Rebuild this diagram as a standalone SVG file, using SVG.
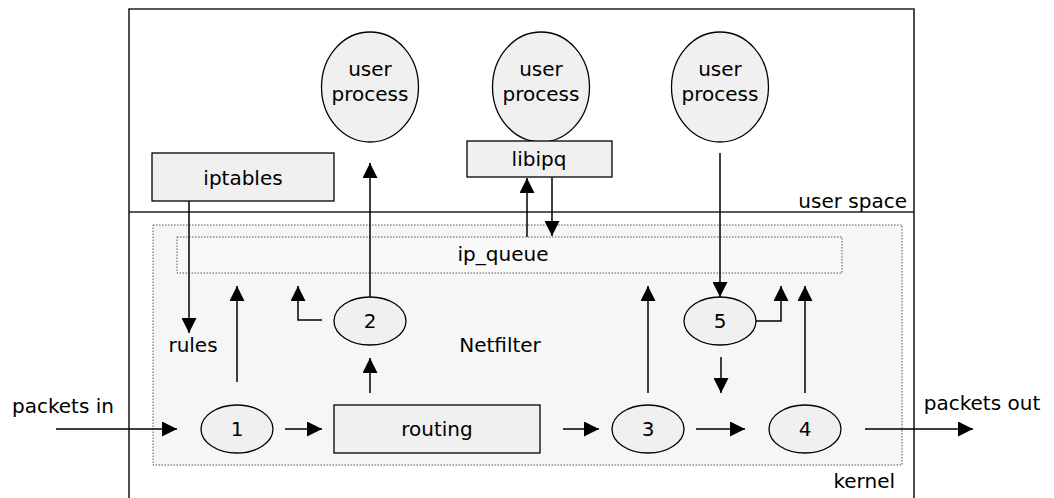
<svg xmlns="http://www.w3.org/2000/svg" width="1054" height="498" viewBox="0 0 1054 498">
<style>
text{font-family:"DejaVu Sans",Verdana,sans-serif;font-size:20px;fill:#000}
.c{text-anchor:middle}
.node{fill:#f0f0f0;stroke:#000;stroke-width:1.3}
.con{fill:none;stroke:#000;stroke-width:1.5}
.arr{marker-end:url(#ah)}
.dot{stroke:#555;stroke-width:1;stroke-dasharray:1.5 1.5}
.frame{fill:none;stroke:#222;stroke-width:1.6}
</style>
<defs>
<marker id="ah" markerUnits="userSpaceOnUse" markerWidth="15" markerHeight="15" refX="15" refY="7.5" orient="auto" viewBox="0 0 15 15">
<path d="M0,0 L15,7.5 L0,15 z" fill="#000"/>
</marker>
</defs>
<rect width="1054" height="498" fill="#fff"/>
<g id="frame">
<path class="frame" d="M129,498 V9 H914 V498"/>
<line class="frame" x1="129" y1="212" x2="914" y2="212"/>
<text x="907" y="208" text-anchor="end">user space</text>
<text x="895" y="488" text-anchor="end">kernel</text>
</g>
<g id="netfilter">
<rect class="dot" x="153" y="225" width="749" height="240" fill="#f6f6f6"/>
<text x="500" y="352" class="c">Netfilter</text>
</g>
<g id="ip_queue">
<rect class="dot" x="177" y="237" width="665" height="36" fill="#f9f9f9"/>
<text x="503" y="261" class="c">ip_queue</text>
</g>
<g id="up1">
<ellipse class="node" cx="370" cy="87" rx="48.5" ry="55"/>
<text x="370" y="76" class="c">user</text>
<text x="370" y="101" class="c">process</text>
</g>
<g id="up2">
<ellipse class="node" cx="541" cy="87" rx="48.5" ry="55"/>
<text x="541" y="76" class="c">user</text>
<text x="541" y="101" class="c">process</text>
</g>
<g id="up3">
<ellipse class="node" cx="720" cy="87" rx="48.5" ry="55"/>
<text x="720" y="76" class="c">user</text>
<text x="720" y="101" class="c">process</text>
</g>
<g id="iptables">
<rect class="node" x="152" y="153" width="182" height="48"/>
<text x="243" y="185" class="c">iptables</text>
</g>
<g id="libipq">
<rect class="node" x="467" y="141" width="145" height="36"/>
<text x="539" y="166" class="c">libipq</text>
</g>
<g id="rules"><text x="193" y="352" class="c">rules</text></g>
<g id="routing">
<rect class="node" x="334" y="405" width="206" height="48"/>
<text x="437" y="436" class="c">routing</text>
</g>
<g id="n1"><ellipse class="node" cx="237" cy="429" rx="36" ry="24"/><text x="237" y="436" class="c">1</text></g>
<g id="n2"><ellipse class="node" cx="370" cy="321" rx="36" ry="24"/><text x="370" y="328" class="c">2</text></g>
<g id="n3"><ellipse class="node" cx="648" cy="429" rx="36" ry="24"/><text x="648" y="436" class="c">3</text></g>
<g id="n4"><ellipse class="node" cx="805" cy="429" rx="36" ry="24"/><text x="805" y="436" class="c">4</text></g>
<g id="n5"><ellipse class="node" cx="720" cy="321" rx="36" ry="24"/><text x="720" y="328" class="c">5</text></g>
<g id="labels">
<text x="63" y="413" class="c">packets in</text>
<text x="982" y="410" class="c">packets out</text>
</g>
<g id="connectors">
<line class="con arr" x1="56" y1="429" x2="177" y2="429"/>
<line class="con arr" x1="285" y1="429" x2="322" y2="429"/>
<line class="con arr" x1="563" y1="429" x2="599" y2="429"/>
<line class="con arr" x1="696" y1="429" x2="745" y2="429"/>
<line class="con arr" x1="865" y1="429" x2="973" y2="429"/>
<line class="con arr" x1="237" y1="382" x2="237" y2="286"/>
<line class="con arr" x1="370" y1="393" x2="370" y2="358"/>
<line class="con arr" x1="648" y1="393" x2="648" y2="286"/>
<line class="con arr" x1="805" y1="393" x2="805" y2="286"/>
<line class="con arr" x1="721" y1="357" x2="721" y2="393"/>
<path class="con arr" d="M322,320 H298 V286"/>
<path class="con arr" d="M756,321 H781 V286"/>
<line class="con arr" x1="370" y1="297" x2="370" y2="163"/>
<line class="con arr" x1="189" y1="201" x2="189" y2="333"/>
<line class="con arr" x1="527" y1="237" x2="527" y2="178"/>
<line class="con arr" x1="552" y1="177" x2="552" y2="236"/>
<line class="con arr" x1="720" y1="153" x2="720" y2="297"/>
</g>
</svg>
